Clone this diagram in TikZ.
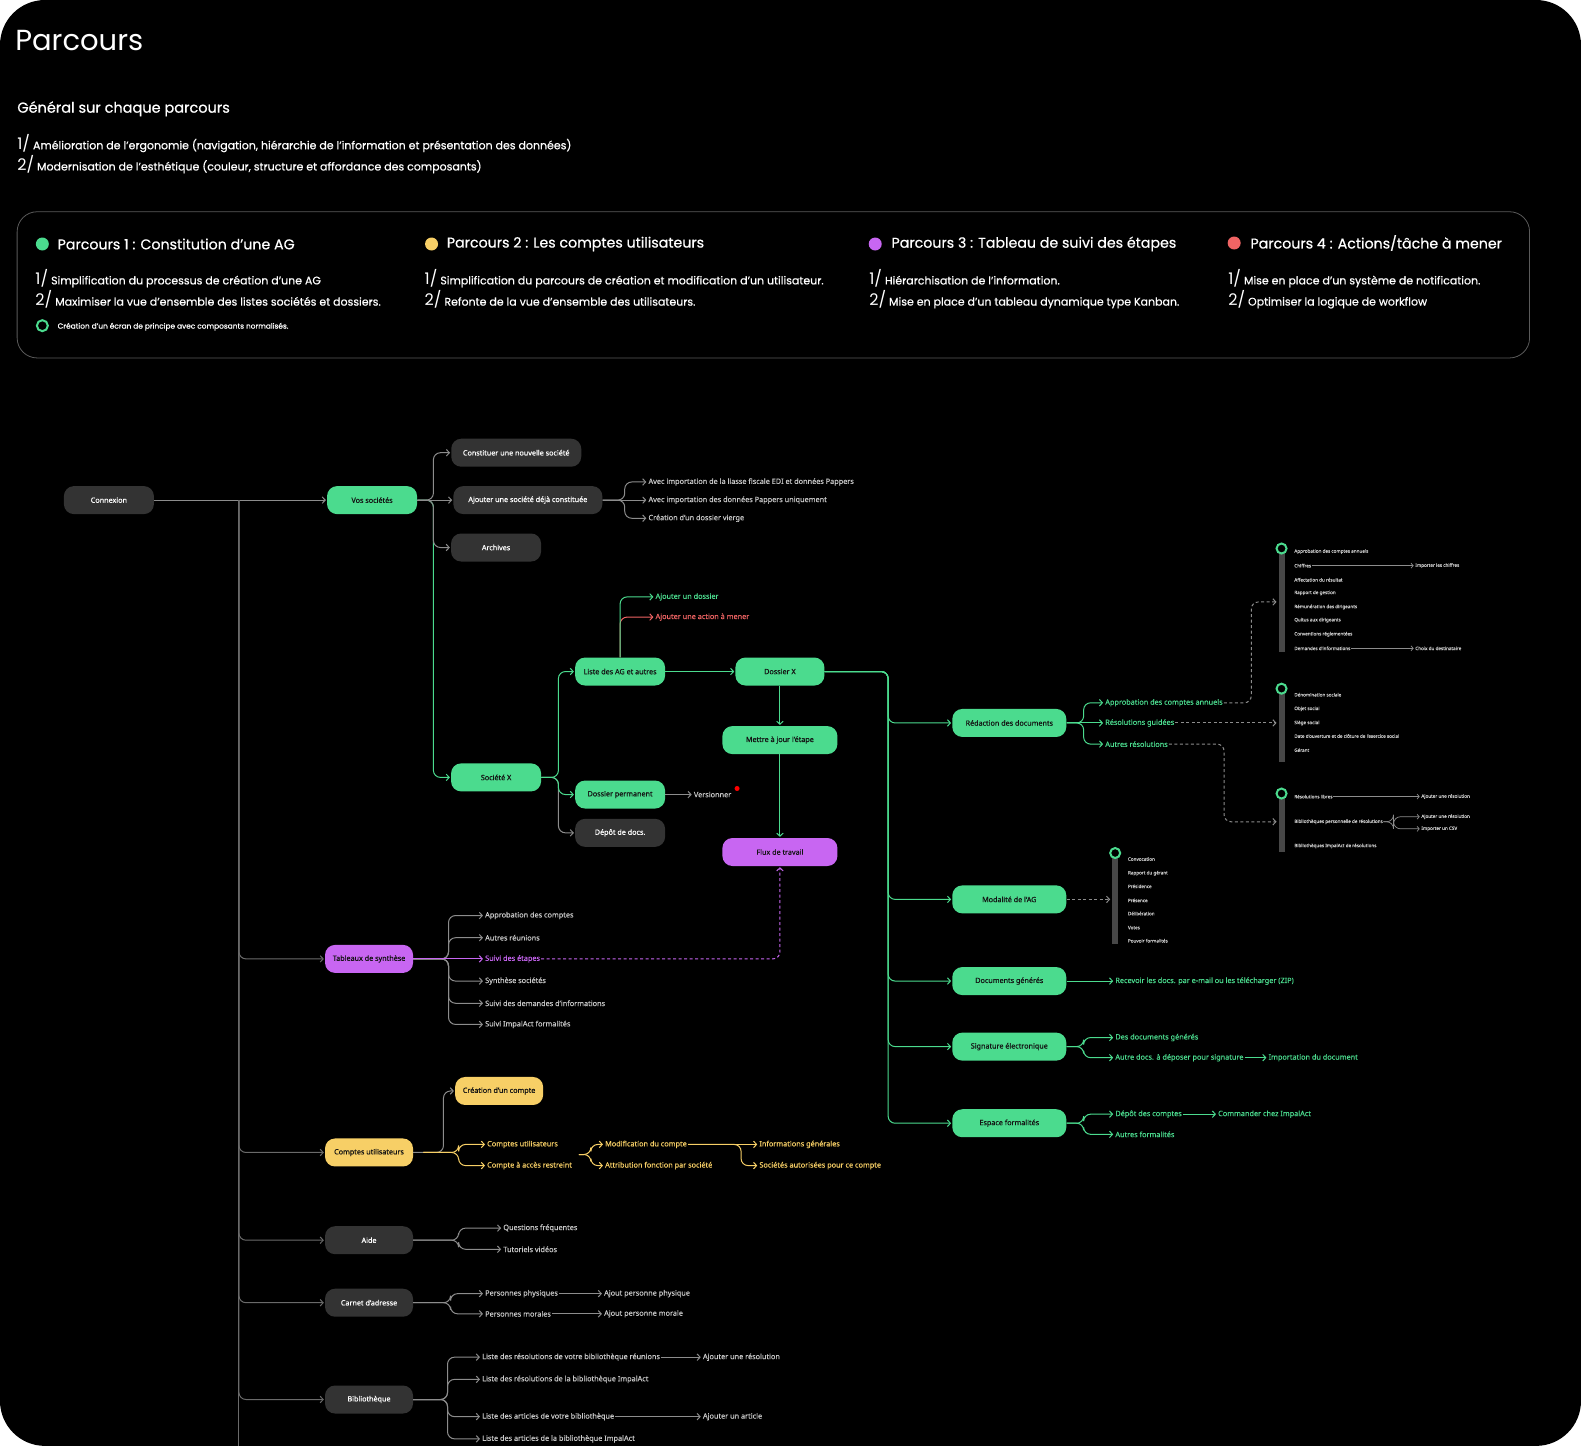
\documentclass[tikz,border=0pt]{standalone}
\usepackage{fontspec}
\setmainfont{Noto Sans}[FakeBold=0.35]
\newfontfamily\poppins{Poppins}
\newfontfamily\poppinsgras{Poppins}[FakeBold=0.6]
\newfontfamily\notogras{Noto Sans}[FakeBold=0.6]
\usetikzlibrary{arrows.meta}
\definecolor{vert}{HTML}{4BDB8E}
\definecolor{jaune}{HTML}{F7CF66}
\definecolor{violet}{HTML}{C866F2}
\definecolor{rouge}{HTML}{F06464}
\definecolor{grisboite}{HTML}{333333}
\definecolor{grislien}{HTML}{8C8C8C}
\definecolor{gristronc}{HTML}{6A6A6A}
\definecolor{gristexte}{HTML}{C8C8C8}
\definecolor{grisbarre}{HTML}{474747}
\definecolor{griscadre}{HTML}{5A5A5A}
\definecolor{sombre}{HTML}{141414}
\begin{document}
\begin{tikzpicture}[x=1.0083pt,y=-1.0083pt]
	% Polices
	\def\PoliceTitre{\poppins\fontsize{29}{32}\selectfont}
	\def\PoliceSousTitre{\poppinsgras\fontsize{14.5}{17}\selectfont}
	\def\PoliceTexte{\poppinsgras\fontsize{11}{13}\selectfont}
	\def\PoliceNum{\poppins\fontsize{16}{17}\selectfont}
	\def\PoliceLegende{\poppinsgras\fontsize{14.2}{16}\selectfont}
	\def\PolicePetite{\poppinsgras\fontsize{7.4}{8}\selectfont}
	\def\PoliceBoite{\notogras\fontsize{7.2}{8}\selectfont}
	\def\PoliceFeuille{\fontsize{7.3}{8}\selectfont}
	\def\PoliceDetail{\fontsize{4.6}{5}\selectfont}
	% Styles
	\tikzstyle{boite}=[rounded corners=10pt, minimum height=28pt, inner sep=2pt, font=\PoliceBoite]
	\tikzstyle{boiteverte}=[boite, fill=vert, text=sombre]
	\tikzstyle{boitegrise}=[boite, fill=grisboite, text=white]
	\tikzstyle{boiteviolette}=[boite, fill=violet, text=sombre]
	\tikzstyle{boitejaune}=[boite, fill=jaune, text=sombre]
	\tikzstyle{feuille}=[anchor=west, inner sep=1pt, font=\PoliceFeuille, text=gristexte]
	\tikzstyle{feuilleverte}=[feuille, text=vert]
	\tikzstyle{feuillejaune}=[feuille, text=jaune]
	\tikzstyle{feuilleviolette}=[feuille, text=violet]
	\tikzstyle{feuillerouge}=[feuille, text=rouge]
	\tikzstyle{detail}=[anchor=west, inner sep=0.5pt, font=\PoliceDetail, text=gristexte]
	\tikzstyle{lien}=[draw=grislien, line width=1pt, rounded corners=7pt, ->, >={Straight Barb[length=3pt,width=6.5pt]}, shorten >=1pt]
	\tikzstyle{lienvert}=[lien, draw=vert]
	\tikzstyle{lienjaune}=[lien, draw=jaune]
	\tikzstyle{lienviolet}=[lien, draw=violet]
	\tikzstyle{lienrouge}=[lien, draw=rouge]
	\tikzstyle{lientronc}=[lien, draw=gristronc]
	\tikzstyle{lienfin}=[lien, line width=0.7pt, >={Straight Barb[length=2.2pt,width=5pt]}]
	\tikzstyle{pointille}=[lien, dash pattern=on 3pt off 2.5pt]
	\tikzstyle{pointilleviolet}=[pointille, draw=violet]
	\tikzstyle{anneau}=[circle, draw=vert, line width=2pt, fill=black, minimum size=10pt, inner sep=0pt]
	\tikzstyle{pastille}=[circle, minimum size=13pt, inner sep=0pt]
	\tikzstyle{entete}=[anchor=west, inner sep=0pt, text=white]
	% Fond
	\useasboundingbox (0,0) rectangle (1568,1434);
	\fill[white] (0,0) rectangle (1568,1434);
	\fill[black, rounded corners=45pt] (0,0) rectangle (1568,1434);

	% En-tete
	\node[entete, font=\PoliceTitre] (titre) at (15,40) {Parcours};
	\node[entete, font=\PoliceSousTitre] (general) at (17,108) {Général sur chaque parcours};
	\node[entete, font=\PoliceTexte] (g1) at (17,142) {{\PoliceNum 1/} Amélioration de l’ergonomie (navigation, hiérarchie de l’information et présentation des données)};
	\node[entete, font=\PoliceTexte] (g2) at (17,163) {{\PoliceNum 2/} Modernisation de l’esthétique (couleur, structure et affordance des composants)};

	% Legende
	\draw[griscadre, line width=0.8pt, rounded corners=20pt] (17,210) rectangle (1517,355);
	\node[pastille, fill=vert] (P1) at (42,242) {};
	\node[entete, font=\PoliceLegende] (P1t) at (57,242) {Parcours 1 : Constitution d’une AG};
	\node[entete, font=\PoliceTexte] (P1a) at (35,276) {{\PoliceNum 1/} Simplification du processus de création d’une AG};
	\node[entete, font=\PoliceTexte] (P1b) at (35,297) {{\PoliceNum 2/} Maximiser la vue d’ensemble des listes sociétés et dossiers.};
	\node[anneau, minimum size=11pt] (P1c) at (42,323) {};
	\node[entete, font=\PolicePetite] (P1d) at (57,324) {Création d’un écran de principe avec composants normalisés.};
	\node[pastille, fill=jaune] (P2) at (428,242) {};
	\node[entete, font=\PoliceLegende] (P2t) at (443,242) {Parcours 2 : Les comptes utilisateurs};
	\node[entete, font=\PoliceTexte] (P2a) at (421,276) {{\PoliceNum 1/} Simplification du parcours de création et modification d’un utilisateur.};
	\node[entete, font=\PoliceTexte] (P2b) at (421,297) {{\PoliceNum 2/} Refonte de la vue d’ensemble des utilisateurs.};
	\node[pastille, fill=violet] (P3) at (868,242) {};
	\node[entete, font=\PoliceLegende] (P3t) at (884,242) {Parcours 3 : Tableau de suivi des étapes};
	\node[entete, font=\PoliceTexte] (P3a) at (862,276) {{\PoliceNum 1/} Hiérarchisation de l’information.};
	\node[entete, font=\PoliceTexte] (P3b) at (862,297) {{\PoliceNum 2/} Mise en place d’un tableau dynamique type Kanban.};
	\node[pastille, fill=rouge] (P4) at (1224,241) {};
	\node[entete, font=\PoliceLegende] (P4t) at (1240,241) {Parcours 4 : Actions/tâche à mener};
	\node[entete, font=\PoliceTexte] (P4a) at (1218,276) {{\PoliceNum 1/} Mise en place d’un système de notification.};
	\node[entete, font=\PoliceTexte] (P4b) at (1218,297) {{\PoliceNum 2/} Optimiser la logique de workflow};

	% Noeuds principaux
	\node[boitegrise, minimum width=90pt] (Cx) at (108,496) {Connexion};
	\node[boiteverte, minimum width=90pt] (VS) at (369,496) {Vos sociétés};
	\node[boitegrise, minimum width=130pt] (CNS) at (512,449) {Constituer une nouvelle société};
	\node[boitegrise, minimum width=149pt] (ASC) at (523.5,496) {Ajouter une société déjà constituée};
	\node[boitegrise, minimum width=90pt] (Arc) at (492,543) {Archives};
	\node[feuille] (ASC1) at (642,478) {Avec importation de la liasse fiscale EDI et données Pappers};
	\node[feuille] (ASC2) at (642,496) {Avec importation des données Pappers uniquement};
	\node[feuille] (ASC3) at (642,514) {Création d’un dossier vierge};
	%
	\node[boiteverte, minimum width=90pt] (SX) at (492,771) {Société X};
	\node[boiteverte, minimum width=90pt] (LAG) at (615,666) {Liste des AG et autres};
	\node[boiteverte, minimum width=90pt] (DP) at (615,788) {Dossier permanent};
	\node[boitegrise, minimum width=90pt] (DD) at (615,826) {Dépôt de docs.};
	\node[feuilleverte] (AjD) at (649,592) {Ajouter un dossier};
	\node[feuillerouge] (AjA) at (649,612) {Ajouter une action à mener};
	\node[feuille] (Ver) at (687,788) {Versionner};
	\node[boiteverte, minimum width=89pt] (DX) at (773.5,666) {Dossier X};
	\node[boiteverte, minimum width=115pt] (MJ) at (773.5,734) {Mettre à jour l’étape};
	\node[boiteviolette, minimum width=115pt] (FT) at (773.5,845) {Flux de travail};
	\fill[red] (731,782) circle (2.5);
	%
	\node[boiteverte, minimum width=114pt] (RD) at (1001,717) {Rédaction des documents};
	\node[boiteverte, minimum width=114pt] (MA) at (1001,892) {Modalité de l’AG};
	\node[boiteverte, minimum width=114pt] (DG) at (1001,973) {Documents générés};
	\node[boiteverte, minimum width=114pt] (SE) at (1001,1038) {Signature électronique};
	\node[boiteverte, minimum width=114pt] (EF) at (1001,1114) {Espace formalités};
	\node[feuilleverte] (ACA) at (1095,697) {Approbation des comptes annuels};
	\node[feuilleverte] (RG) at (1095,717) {Résolutions guidées};
	\node[feuilleverte] (AR) at (1095,738) {Autres résolutions};
	\node[feuilleverte] (RZ) at (1105,973) {Recevoir les docs. par e-mail ou les télécharger (ZIP)};
	\node[feuilleverte] (SE1) at (1105,1029) {Des documents générés};
	\node[feuilleverte] (SE2) at (1105,1049) {Autre docs. à déposer pour signature};
	\node[feuilleverte] (SE3) at (1257,1049) {Importation du document};
	\node[feuilleverte] (EF1) at (1105,1105) {Dépôt des comptes};
	\node[feuilleverte] (EF2) at (1105,1125) {Autres formalités};
	\node[feuilleverte] (EF3) at (1207,1105) {Commander chez ImpalAct};

	% Panneaux de detail
	\fill[grisbarre] (1268,544) rectangle (1274,647);
	\node[anneau] (PA) at (1271,544) {};
	\coordinate (PAe) at (1267,597);
	\coordinate (PAx) at (1241,597);
	\node[detail] (PA1) at (1283,547) {Approbation des comptes annuels};
	\node[detail] (PA2) at (1283,561) {Chiffres};
	\node[detail] (PA3) at (1283,575) {Affectation du résultat};
	\node[detail] (PA4) at (1283,588) {Rapport de gestion};
	\node[detail] (PA5) at (1283,602) {Rémunération des dirigeants};
	\node[detail] (PA6) at (1283,615) {Quitus aux dirigeants};
	\node[detail] (PA7) at (1283,629) {Conventions réglementées};
	\node[detail] (PA8) at (1283,643) {Demandes d’informations};
	\node[detail] (PA2b) at (1403,561) {Importer les chiffres};
	\node[detail] (PA8b) at (1403,643) {Choix du destinataire};
	%
	\fill[grisbarre] (1268,683) rectangle (1274,756);
	\node[anneau] (PB) at (1271,683) {};
	\coordinate (PBe) at (1267,717);
	\node[detail] (PB1) at (1283,689) {Dénomination sociale};
	\node[detail] (PB2) at (1283,703) {Objet social};
	\node[detail] (PB3) at (1283,717) {Siège social};
	\node[detail] (PB4) at (1283,730) {Date d’ouverture et de clôture de l’exercice social};
	\node[detail] (PB5) at (1283,744) {Gérant};
	%
	\fill[grisbarre] (1268,787) rectangle (1274,845);
	\node[anneau] (PC) at (1271,787) {};
	\coordinate (PCe) at (1267,815);
	\coordinate (PCx) at (1214,815);
	\node[detail] (PC1) at (1283,790) {Résolutions libres};
	\node[detail] (PC2) at (1283,815) {Bibliothèques personnelle de résolutions};
	\node[detail] (PC3) at (1283,839) {Bibliothèques ImpalAct de résolutions};
	\node[detail] (PC1b) at (1409,790) {Ajouter une résolution};
	\node[detail] (PC2b) at (1409,810) {Ajouter une résolution};
	\node[detail] (PC2c) at (1409,822) {Importer un CSV};
	%
	\fill[grisbarre] (1103,846) rectangle (1109,936);
	\node[anneau] (PD) at (1106,846) {};
	\coordinate (PDe) at (1102,892);
	\node[detail] (PD1) at (1118,852) {Convocation};
	\node[detail] (PD2) at (1118,866) {Rapport du gérant};
	\node[detail] (PD3) at (1118,879) {Présidence};
	\node[detail] (PD4) at (1118,893) {Présence};
	\node[detail] (PD5) at (1118,906) {Délibération};
	\node[detail] (PD6) at (1118,920) {Votes};
	\node[detail] (PD7) at (1118,933) {Pouvoir formalités};

	% Branches du tronc
	\coordinate (Tr) at (237,496);
	\coordinate (TrB) at (237,1434);
	\node[boiteviolette, minimum width=88pt] (TS) at (366,951) {Tableaux de synthèse};
	\node[feuille] (TS1) at (480,908) {Approbation des comptes};
	\node[feuille] (TS2) at (480,930) {Autres réunions};
	\node[feuilleviolette] (TS3) at (480,951) {Suivi des étapes};
	\node[feuille] (TS4) at (480,973) {Synthèse sociétés};
	\node[feuille] (TS5) at (480,995) {Suivi des demandes d’informations};
	\node[feuille] (TS6) at (480,1016) {Suivi ImpalAct formalités};
	%
	\node[boitejaune, minimum width=88pt] (CU) at (366,1143) {Comptes utilisateurs};
	\node[boitejaune, minimum width=88pt] (CC) at (495,1082) {Création d’un compte};
	\node[feuillejaune] (CU1) at (482,1135) {Comptes utilisateurs};
	\node[feuillejaune] (CU2) at (482,1156) {Compte à accès restreint};
	\coordinate (CUm) at (574,1145);
	\coordinate (MCx) at (735,1135);
	\node[feuillejaune] (MC) at (599,1135) {Modification du compte};
	\node[feuillejaune] (AF) at (599,1156) {Attribution fonction par société};
	\node[feuillejaune] (IG) at (752,1135) {Informations générales};
	\node[feuillejaune] (SA) at (752,1156) {Sociétés autorisées pour ce compte};
	%
	\node[boitegrise, minimum width=88pt] (AI) at (366,1230) {Aide};
	\node[feuille] (AI1) at (498,1218) {Questions fréquentes};
	\node[feuille] (AI2) at (498,1239) {Tutoriels vidéos};
	\node[boitegrise, minimum width=88pt] (CA) at (366,1292) {Carnet d’adresse};
	\node[feuille] (CA1) at (480,1283) {Personnes physiques};
	\node[feuille] (CA2) at (480,1303) {Personnes morales};
	\node[feuille] (CA3) at (598,1283) {Ajout personne physique};
	\node[feuille] (CA4) at (598,1303) {Ajout personne morale};
	\node[boitegrise, minimum width=88pt] (BI) at (366,1388) {Bibliothèque};
	\node[feuille] (BI1) at (477,1346) {Liste des résolutions de votre bibliothèque réunions};
	\node[feuille] (BI2) at (477,1368) {Liste des résolutions de la bibliothèque ImpalAct};
	\node[feuille] (BI3) at (477,1405) {Liste des articles de votre bibliothèque};
	\node[feuille] (BI4) at (477,1427) {Liste des articles de la bibliothèque ImpalAct};
	\node[feuille] (BI5) at (696,1346) {Ajouter une résolution};
	\node[feuille] (BI6) at (696,1405) {Ajouter un article};

	% Arcs
	\draw[gristronc, line width=1pt] (Tr) -- (TrB);
	\draw[lien] (Cx.east) -- (VS.west);
	\draw[lienvert] (VS.east) -- ++(16,0) |- (SX.west);
	\draw[lien] (VS.east) -- ++(16,0) |- (CNS.west);
	\draw[lien] (VS.east) -- (ASC.west);
	\draw[lien] (VS.east) -- ++(16,0) |- (Arc.west);
	\draw[lien] (ASC.east) -- ++(22,0) |- (ASC1.west);
	\draw[lien] (ASC.east) -- (ASC2.west);
	\draw[lien] (ASC.east) -- ++(22,0) |- (ASC3.west);
	\draw[lien] (SX.east) -- ++(17,0) |- (DD.west);
	\draw[lienvert] (SX.east) -- ++(17,0) |- (LAG.west);
	\draw[lienvert] (SX.east) -- ++(17,0) |- (DP.west);
	\draw[lienrouge] (LAG.north) |- (AjA.west);
	\draw[lienvert] (LAG.north) |- (AjD.west);
	\draw[lien] (DP.east) -- (Ver.west);
	\draw[lienvert] (LAG.east) -- (DX.west);
	\draw[lienvert] (DX.south) -- (MJ.north);
	\draw[lienvert] (MJ.south) -- (FT.north);
	\draw[lienvert] (DX.east) -- ++(63,0) |- (RD.west);
	\draw[lienvert] (DX.east) -- ++(63,0) |- (MA.west);
	\draw[lienvert] (DX.east) -- ++(63,0) |- (DG.west);
	\draw[lienvert] (DX.east) -- ++(63,0) |- (SE.west);
	\draw[lienvert] (DX.east) -- ++(63,0) |- (EF.west);
	\draw[lienvert] (RD.east) -- ++(17,0) |- (ACA.west);
	\draw[lienvert] (RD.east) -- (RG.west);
	\draw[lienvert] (RD.east) -- ++(17,0) |- (AR.west);
	\draw[pointille] (ACA.east) -- (ACA.east -| PAx) |- (PAe);
	\draw[pointille] (RG.east) -- (PBe);
	\draw[pointille] (AR.east) -- (AR.east -| PCx) |- (PCe);
	\draw[pointille] (MA.east) -- (PDe);
	\draw[lienfin] (PA2.east) -- (PA2b.west);
	\draw[lienfin] (PA8.east) -- (PA8b.west);
	\draw[lienfin] (PC1.east) -- (PC1b.west);
	\draw[lienfin] (PC2.east) -- ++(10,0) |- (PC2b.west);
	\draw[lienfin] (PC2.east) -- ++(10,0) |- (PC2c.west);
	\draw[lienvert] (DG.east) -- (RZ.west);
	\draw[lienvert] (SE.east) -- ++(17,0) |- (SE1.west);
	\draw[lienvert] (SE.east) -- ++(17,0) |- (SE2.west);
	\draw[lienvert] (SE2.east) -- (SE3.west);
	\draw[lienvert] (EF.east) -- ++(17,0) |- (EF1.west);
	\draw[lienvert] (EF.east) -- ++(17,0) |- (EF2.west);
	\draw[lienvert] (EF1.east) -- (EF3.west);
	%
	\draw[lientronc] (Tr) |- (TS.west);
	\draw[lien] (TS.east) -- ++(35,0) |- (TS1.west);
	\draw[lien] (TS.east) -- ++(35,0) |- (TS2.west);
	\draw[lien] (TS.east) -- ++(35,0) |- (TS4.west);
	\draw[lien] (TS.east) -- ++(35,0) |- (TS5.west);
	\draw[lien] (TS.east) -- ++(35,0) |- (TS6.west);
	\draw[lienviolet] (TS.east) -- (TS3.west);
	\draw[pointilleviolet] (TS3.east) -| (FT.south);
	\draw[lientronc] (Tr) |- (CU.west);
	\draw[lien] (CU.east) -- ++(30,0) |- (CC.west);
	\draw[lienjaune] (CU.east) ++(10,0) -- ++(35,0) |- (CU1.west);
	\draw[lienjaune] (CU.east) ++(10,0) -- ++(35,0) |- (CU2.west);
	\draw[lienjaune] (CUm) -- ++(12,0) |- (MC.west);
	\draw[lienjaune] (CUm) -- ++(12,0) |- (AF.west);
	\draw[lienjaune] (MC.east) -- (IG.west);
	\draw[lienjaune] (MC.east) -- (MCx) |- (SA.west);
	\draw[lientronc] (Tr) |- (AI.west);
	\draw[lien] (AI.east) -- ++(45,0) |- (AI1.west);
	\draw[lien] (AI.east) -- ++(45,0) |- (AI2.west);
	\draw[lientronc] (Tr) |- (CA.west);
	\draw[lien] (CA.east) -- ++(37,0) |- (CA1.west);
	\draw[lien] (CA.east) -- ++(37,0) |- (CA2.west);
	\draw[lien] (CA1.east) -- (CA3.west);
	\draw[lien] (CA2.east) -- (CA4.west);
	\draw[lientronc] (Tr) |- (BI.west);
	\draw[lien] (BI.east) -- ++(34,0) |- (BI1.west);
	\draw[lien] (BI.east) -- ++(34,0) |- (BI2.west);
	\draw[lien] (BI.east) -- ++(34,0) |- (BI3.west);
	\draw[lien] (BI.east) -- ++(34,0) |- (BI4.west);
	\draw[lien] (BI1.east) -- (BI5.west);
	\draw[lien] (BI3.east) -- (BI6.west);
\end{tikzpicture}
\end{document}
